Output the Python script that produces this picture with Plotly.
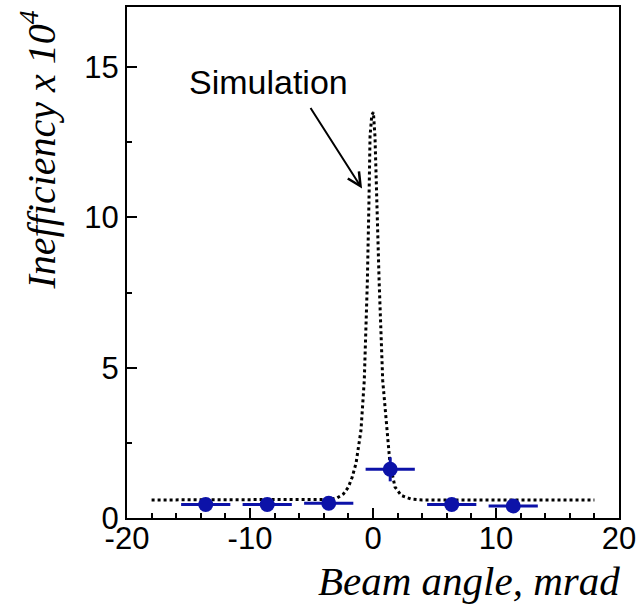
import plotly.graph_objects as go

# Measured data (blue points)
angle = [-13.6, -8.6, -3.6, 1.4, 6.4, 11.4]
ineff = [0.45, 0.45, 0.49, 1.62, 0.45, 0.40]
angle_err = [2.0, 2.0, 2.0, 2.0, 2.0, 2.0]
ineff_err = [0.0, 0.0, 0.0, 0.40, 0.0, 0.0]

# Simulation curve (dotted)
sim_x = [-18, -10, -5, -3.5, -2.95, -2.4, -2.0, -1.7, -1.38, -0.98, -0.71, -0.46,
         -0.33, -0.24, -0.1, 0.03, 0.16, 0.3, 0.5, 0.79, 1.11, 1.38, 1.79, 2.3,
         3.1, 4.0, 10, 18]
sim_y = [0.6, 0.6, 0.6, 0.62, 0.66, 0.8, 1.03, 1.35, 1.82, 2.91, 4.57, 7.85,
         10.5, 12.7, 13.4, 13.5, 12.7, 10.5, 7.85, 4.57, 2.91, 1.82, 1.03, 0.75,
         0.63, 0.6, 0.6, 0.6]

# Tick labels
x_tickvals = [-20, -10, 0, 10, 20]
x_ticktext = ["-20", "-10", "0", "10", "20"]
y_tickvals = [0, 5, 10, 15]
y_ticktext = ["0", "5", "10", "15"]

blue = "#0c12a8"

fig = go.Figure()
fig.add_trace(go.Scatter(
    x=sim_x, y=sim_y, mode="lines",
    line=dict(color="black", width=3, dash="3px,3px"),
    showlegend=False, hoverinfo="skip"))
fig.add_trace(go.Scatter(
    x=angle, y=ineff, mode="markers",
    marker=dict(color=blue, size=15, line=dict(width=0)),
    error_x=dict(type="data", array=angle_err, color=blue, thickness=3, width=0),
    error_y=dict(type="data", array=ineff_err, color=blue, thickness=3, width=0),
    showlegend=False))

tickfont = dict(family="Liberation Sans, Arial", size=31, color="black")
fig.update_layout(
    width=643, height=611,
    margin=dict(l=127, r=24, t=5, b=93),
    plot_bgcolor="white", paper_bgcolor="white",
    xaxis=dict(range=[-20, 20], tickmode="array", tickvals=x_tickvals,
               ticktext=x_ticktext, ticks="inside", ticklen=10,
               tickwidth=1.5, tickcolor="black", showline=True, mirror=True,
               linecolor="black", linewidth=2, showgrid=False, zeroline=False,
               tickfont=tickfont, ticklabelstandoff=-8,
               minor=dict(dtick=2, tick0=0, ticks="inside", ticklen=5, tickwidth=1.5,
                          tickcolor="black", showgrid=False)),
    yaxis=dict(range=[0, 17], tickmode="array", tickvals=y_tickvals,
               ticktext=y_ticktext, ticks="inside", ticklen=10,
               tickwidth=1.5, tickcolor="black", showline=True, mirror=True,
               linecolor="black", linewidth=2, showgrid=False, zeroline=False,
               tickfont=tickfont,
               minor=dict(dtick=2.5, tick0=0, ticks="inside", ticklen=5, tickwidth=1.5,
                          tickcolor="black", showgrid=False)),
    annotations=[
        dict(text="Beam angle, mrad", xref="paper", yref="paper",
             x=1.006, y=-0.124, xanchor="right", yanchor="middle", showarrow=False,
             font=dict(family="Liberation Serif, Times New Roman", size=41,
                       color="black", style="italic")),
        dict(text="Inefficiency x 10<sup>4</sup>", xref="paper", yref="paper",
             x=-0.18, y=0.72, xanchor="center", yanchor="middle", textangle=-90,
             showarrow=False,
             font=dict(family="Liberation Serif, Times New Roman", size=40,
                       color="black", style="italic")),
        dict(text="Simulation", xref="x", yref="y", x=-8.5, y=14.5,
             xanchor="center", yanchor="middle", showarrow=False,
             font=dict(family="Liberation Sans, Arial", size=34, color="black")),
        dict(text=" ", xref="x", yref="y", x=-0.89, y=10.96,
             ax=-55, ay=-86, showarrow=True, arrowhead=5, arrowsize=1.3,
             arrowwidth=2, arrowcolor="black",
             font=dict(family="Liberation Sans, Arial", size=20), borderpad=0),
    ],
)

fig.write_html("out.html")
